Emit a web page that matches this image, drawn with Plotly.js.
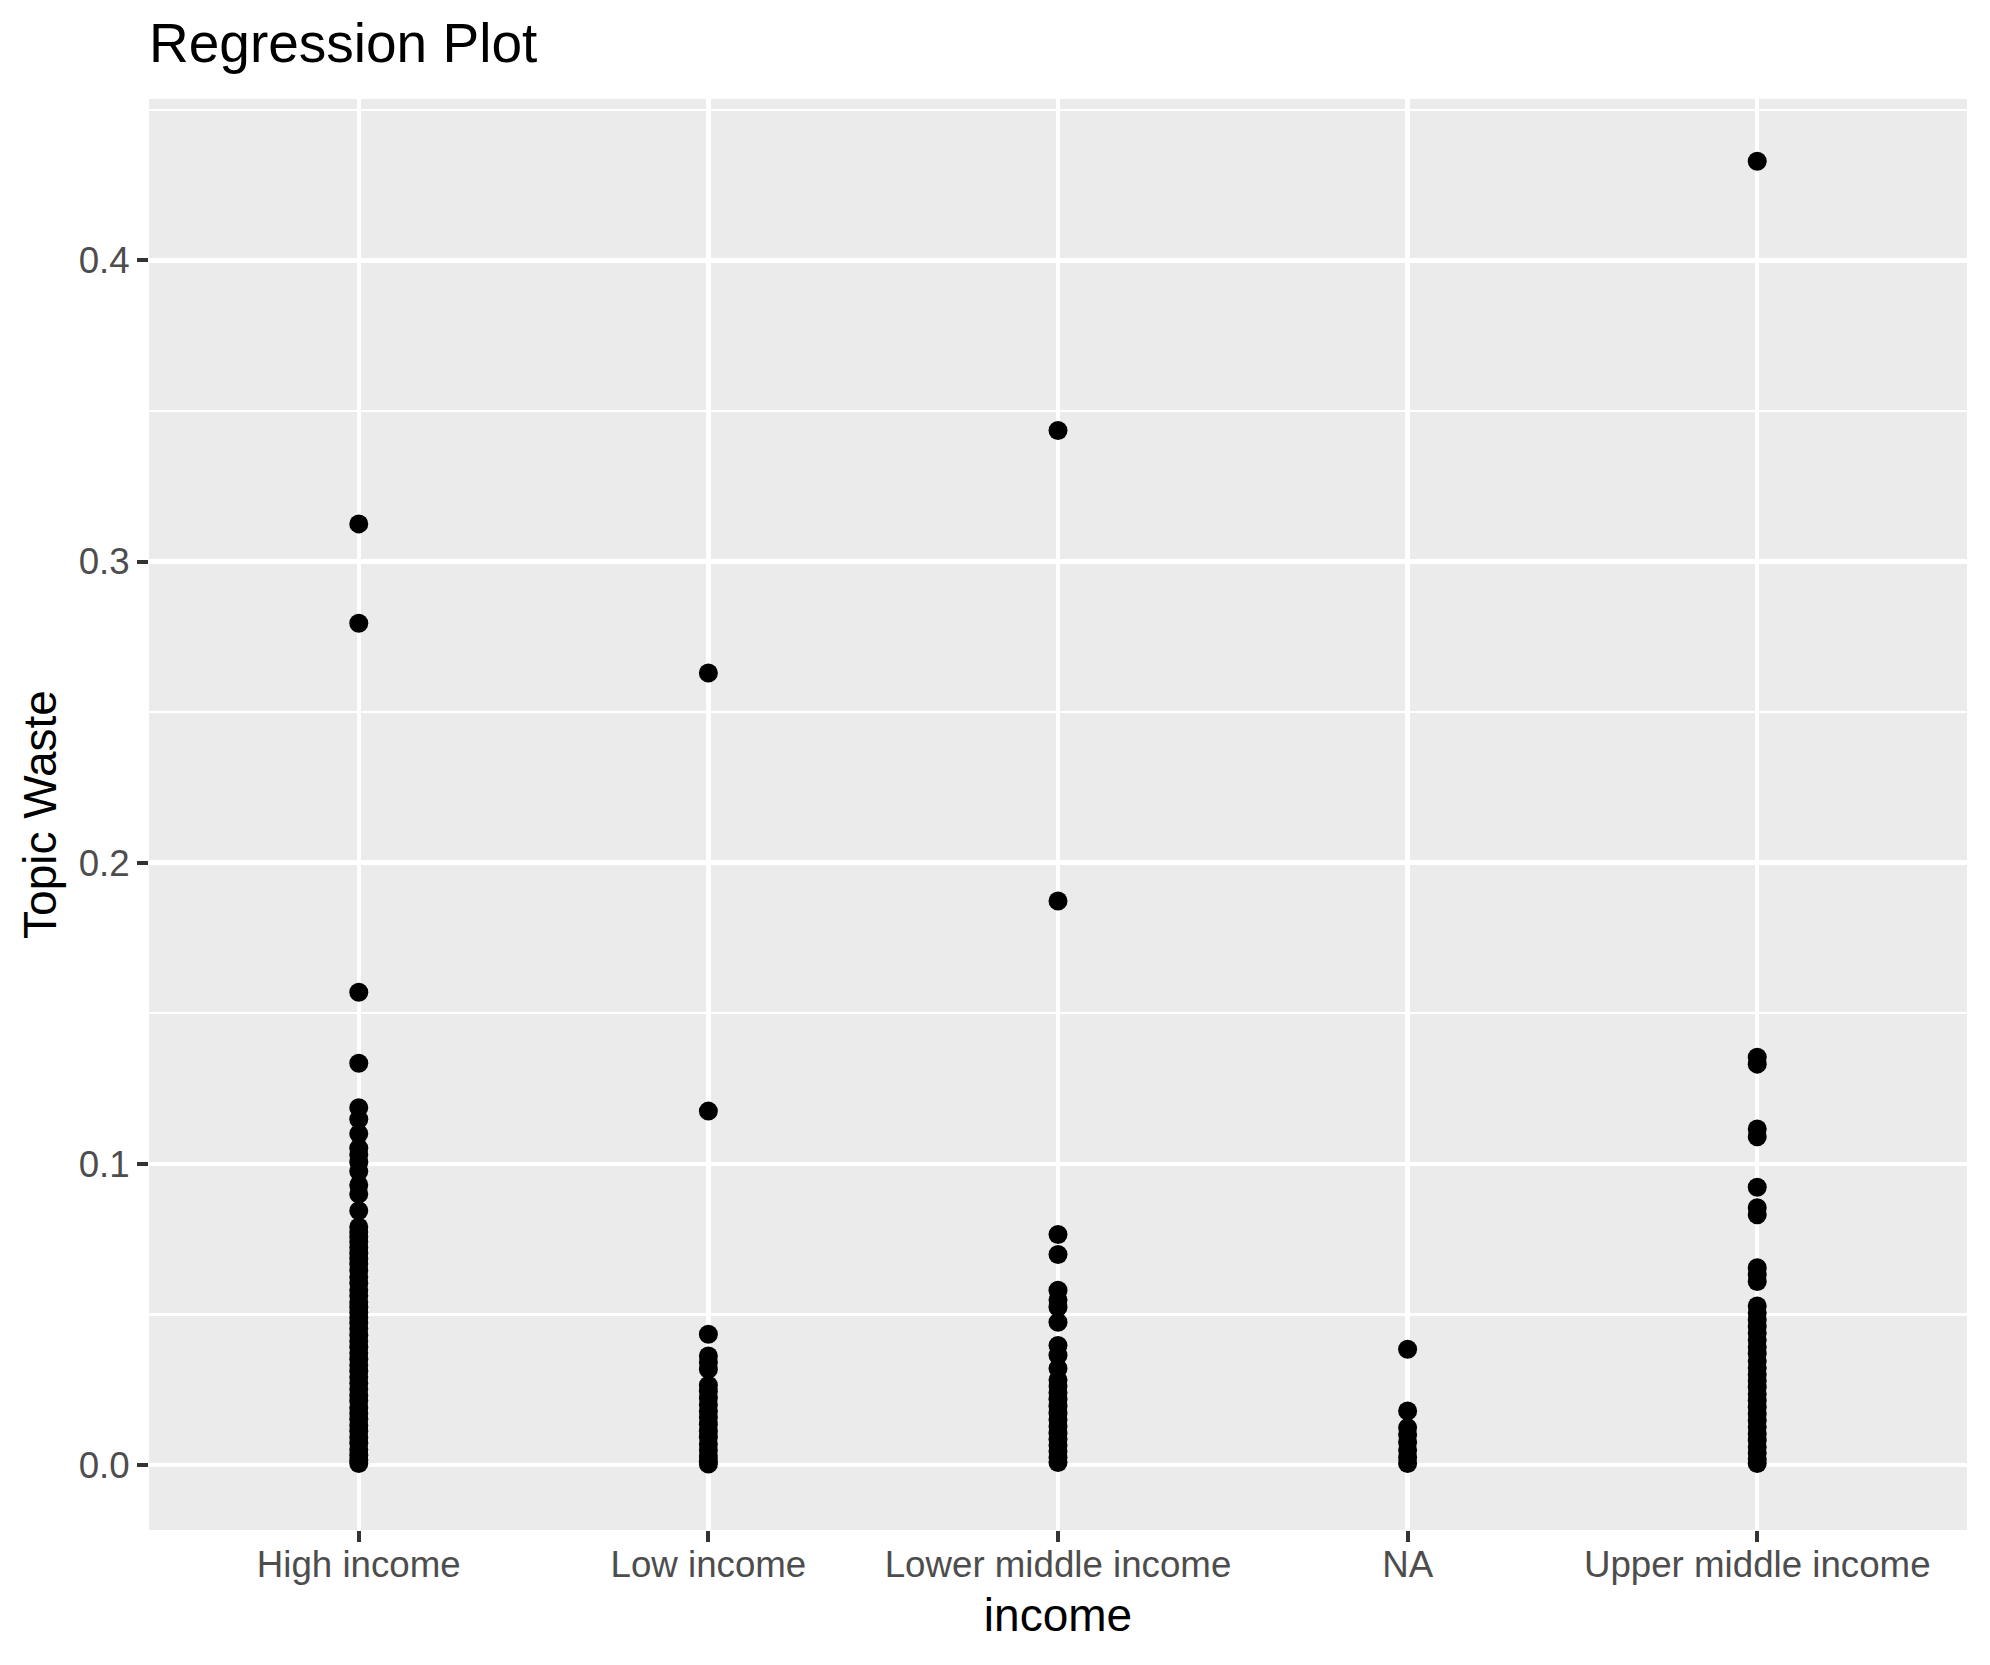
<!DOCTYPE html>
<html>
<head>
<meta charset="utf-8">
<script src="https://cdn.plot.ly/plotly-3.0.1.min.js"></script>
<style>html,body{margin:0;padding:0;background:#fff;}#plot{width:1990px;height:1665px;}</style>
</head>
<body>
<div id="plot"></div>
<script>
const categories = ["High income", "Low income", "Lower middle income", "NA", "Upper middle income"];

const highIncome = [0.3125, 0.2795, 0.1570, 0.1334, 0.1186, 0.1148, 0.1100, 0.1052, 0.1030, 0.1005, 0.0975, 0.0930, 0.0900, 0.0844,
  0.0790, 0.0774, 0.0758, 0.0741, 0.0722, 0.0703, 0.0686, 0.0667, 0.0646, 0.0624, 0.0603, 0.0581, 0.0562, 0.0541, 0.0524,
  0.0506, 0.0489, 0.0471, 0.0452, 0.0431, 0.0412, 0.0391, 0.0372, 0.0351, 0.0332, 0.0311, 0.0292, 0.0271, 0.0252, 0.0231,
  0.0212, 0.0190, 0.0171, 0.0152, 0.0131, 0.0112, 0.0091, 0.0072, 0.0051, 0.0032, 0.0016, 0.0005];
const lowIncome = [0.2630, 0.1175, 0.0434, 0.0362, 0.0340, 0.0318, 0.0265, 0.0245, 0.0222, 0.0200, 0.0178, 0.0158, 0.0135,
  0.0112, 0.0092, 0.0070, 0.0050, 0.0030, 0.0012, 0.0003];
const lowerMiddleIncome = [0.3435, 0.1873, 0.0765, 0.0699, 0.0580, 0.0548, 0.0524, 0.0474, 0.0397, 0.0364, 0.0320, 0.0282,
  0.0262, 0.0240, 0.0218, 0.0195, 0.0172, 0.0150, 0.0128, 0.0105, 0.0085, 0.0065, 0.0045, 0.0025, 0.0008];
const naIncome = [0.0384, 0.0179, 0.0124, 0.0100, 0.0075, 0.0050, 0.0025, 0.0005];
const upperMiddleIncome = [0.4329, 0.1354, 0.1331, 0.1116, 0.1090, 0.0922, 0.0854, 0.0831, 0.0655, 0.0632, 0.0609, 0.0528,
  0.0505, 0.0482, 0.0460, 0.0438, 0.0415, 0.0392, 0.0370, 0.0345, 0.0322, 0.0300, 0.0280, 0.0258, 0.0236, 0.0214, 0.0192,
  0.0170, 0.0148, 0.0126, 0.0104, 0.0082, 0.0060, 0.0040, 0.0020, 0.0005];

const yTickVals = [0.0, 0.1, 0.2, 0.3, 0.4];

const groups = [highIncome, lowIncome, lowerMiddleIncome, naIncome, upperMiddleIncome];
const xs = [], ys = [];
groups.forEach((vals, i) => { vals.forEach(v => { xs.push(categories[i]); ys.push(v); }); });

const font = "Liberation Sans, Arial, Helvetica, sans-serif";

const trace = {
  type: "scatter", mode: "markers", x: xs, y: ys,
  marker: { color: "#000000", size: 19, line: { width: 0 } },
  hoverinfo: "x+y", showlegend: false
};

const layout = {
  width: 1990, height: 1665,
  margin: { l: 149, r: 23, t: 99, b: 135 },
  paper_bgcolor: "#ffffff", plot_bgcolor: "#EBEBEB",
  font: { family: font },
  title: { text: "Regression Plot", font: { family: font, size: 55, color: "#000000" },
    xref: "paper", x: 0, xanchor: "left", yref: "container", y: 0.963, yanchor: "bottom" },
  xaxis: {
    type: "category", categoryorder: "array", categoryarray: categories,
    range: [-0.6, 4.6], showgrid: true, gridcolor: "#ffffff", gridwidth: 4.5,
    zeroline: false, showline: false,
    ticks: "outside", ticklen: 11, tickwidth: 4, tickcolor: "#333333",
    ticklabelstandoff: -9,
    tickfont: { family: font, size: 36.7, color: "#4D4D4D" },
    title: { text: "income", font: { family: font, size: 46, color: "#000000" }, standoff: 14 },
    automargin: false, fixedrange: true
  },
  yaxis: {
    range: [-0.0216, 0.4536], tickvals: yTickVals, tickformat: ".1f",
    showgrid: true, gridcolor: "#ffffff", gridwidth: 4.5,
    minor: { dtick: 0.05, tick0: 0, showgrid: true, gridcolor: "#ffffff", gridwidth: 2.3, ticks: "" },
    zeroline: false, showline: false,
    ticks: "outside", ticklen: 11, tickwidth: 4, tickcolor: "#333333",
    tickfont: { family: font, size: 36.7, color: "#4D4D4D" },
    title: { text: "Topic Waste", font: { family: font, size: 46, color: "#000000" }, standoff: 7 },
    automargin: false, fixedrange: true
  }
};

Plotly.newPlot("plot", [trace], layout, { displayModeBar: false, staticPlot: true });
</script>
</body>
</html>
